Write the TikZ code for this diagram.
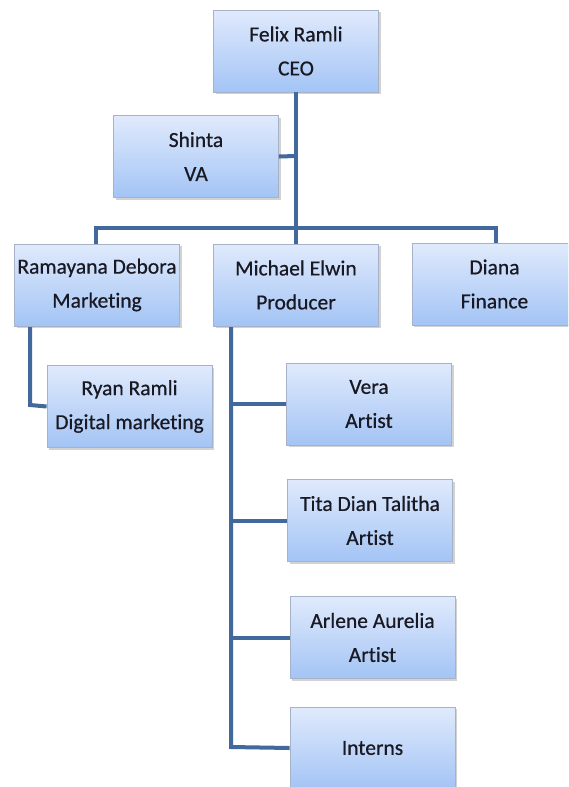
\documentclass[tikz,border=0pt]{standalone}
\usepackage{fontspec}
\setmainfont{Carlito}[RawFeature=-liga, FakeBold=0.6]
\usetikzlibrary{shadows}
\definecolor{linkc}{RGB}{65,105,155}
\definecolor{boxtop}{RGB}{224,234,252}
\definecolor{boxbot}{RGB}{163,196,245}
\definecolor{boxedge}{RGB}{165,178,200}
\definecolor{txt}{RGB}{25,25,35}
\tikzset{
  orgbox/.style={rectangle, draw=boxedge, line width=0.8pt, top color=boxtop, bottom color=boxbot,
    minimum width=165pt, minimum height=82pt, inner sep=0pt, align=center, text=txt,
    font=\fontsize{21.5}{34}\selectfont,
    drop shadow={shadow xshift=2pt, shadow yshift=-2pt, fill=black!35}},
  link/.style={draw=linkc, line width=4pt}
}
\begin{document}
\begin{tikzpicture}[x=1pt,y=-1pt]
\useasboundingbox (0,0) rectangle (568,787);
\clip (0,0) rectangle (568,787);
\fill[white] (0,0) rectangle (568,787);
% connectors
\coordinate (busL) at (96,228);
\coordinate (busR) at (496,228);
\coordinate (shj) at (296,156);
\coordinate (rtop) at (30,327);
\coordinate (rbend) at (30,405);
\coordinate (mtop) at (231,327);
\coordinate (mbot) at (231,747);
% nodes
\node[orgbox] (felix) at (296,51) {Felix Ramli\\CEO};
\node[orgbox] (shinta) at (196,156.5) {Shinta\\VA};
\node[orgbox] (rama) at (97,285) {Ramayana Debora\\Marketing};
\node[orgbox] (mich) at (296,285) {Michael Elwin\\Producer};
\node[orgbox] (diana) at (494.5,284) {Diana\\Finance};
\node[orgbox] (ryan) at (129.5,406.5) {Ryan Ramli\\Digital marketing};
\node[orgbox] (vera) at (369,404) {Vera\\Artist};
\node[orgbox] (tita) at (370,520.5) {Tita Dian Talitha\\Artist};
\node[orgbox] (arlene) at (372.5,637.5) {Arlene Aurelia\\Artist};
\node[orgbox] (interns) at (372.5,748) {Interns};
% links
\draw[link] (felix.south) -- (mich.north);
\draw[link] (shinta.east) -- (shj);
\draw[link] (busL |- rama.north) -- (busL) -- (busR) -- (busR |- diana.north);
\draw[link] (rtop) -- (rbend) -- (ryan.west);
\draw[link] (mtop) -- (mbot) -- (interns.west);
\draw[link] (mtop |- vera.west) -- (vera.west);
\draw[link] (mtop |- tita.west) -- (tita.west);
\draw[link] (mtop |- arlene.west) -- (arlene.west);
\end{tikzpicture}
\end{document}
